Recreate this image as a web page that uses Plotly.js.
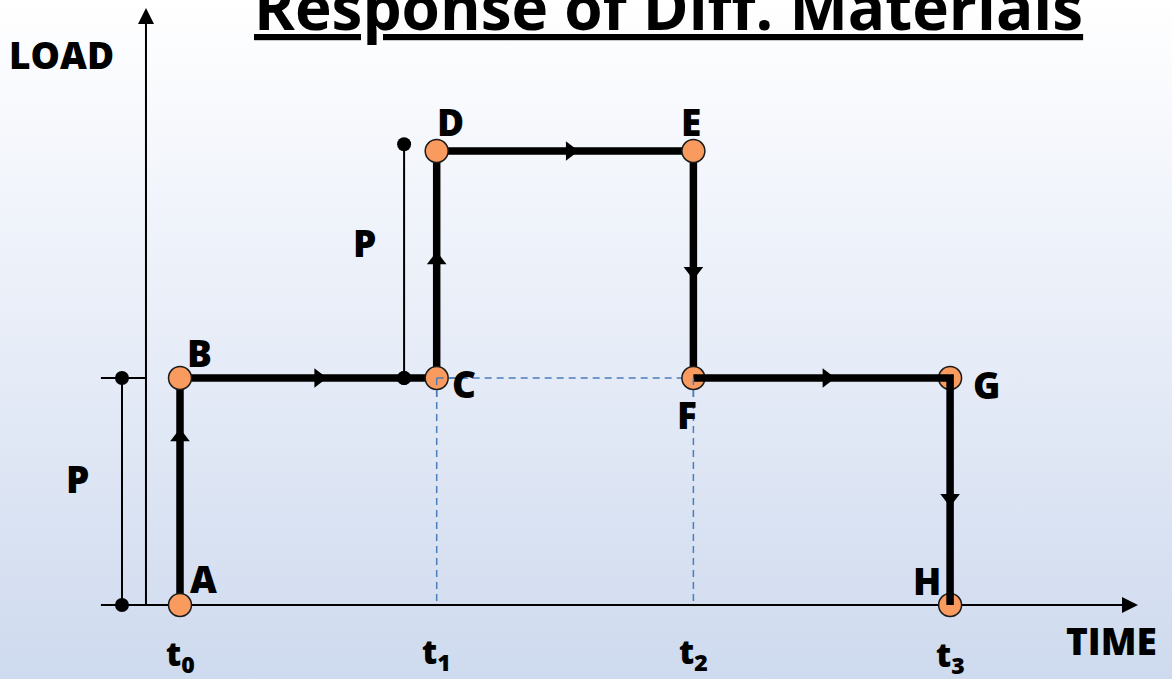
<!DOCTYPE html>
<html>
<head>
<meta charset="utf-8">
<script src="https://cdn.plot.ly/plotly-3.0.1.min.js"></script>
<style>
  html, body { margin: 0; padding: 0; }
  body { width: 1172px; height: 679px; overflow: hidden;
         background: linear-gradient(to bottom, #ffffff 0%, #e5ebf7 55%, #cedaee 100%); }
  #chart { width: 1172px; height: 679px; }
</style>
</head>
<body>
<div id="chart"></div>
<script>
// Load history: time instants and load levels (in units of P)
const timeValues = [0, 1, 2, 3];
const timeLabels = ['t<sub>0</sub>', 't<sub>1</sub>', 't<sub>2</sub>', 't<sub>3</sub>'];

const pointNames = ['A', 'B', 'C', 'D', 'E', 'F', 'G', 'H'];
const pointTimes = [0, 0, 1, 1, 2, 2, 3, 3];
const pointLoads = [0, 1, 1, 2, 2, 1, 1, 0];

// where the direction arrow sits along each segment (fraction of its length)
const arrowFractions = [0.74, 0.54, 0.52, 0.52, 0.53, 0.52, 0.53];

// dimension markers showing the magnitude P
const dimLeftTime = -0.226;
const dimLeftLoads = [0, 1];
const dimUpperTime = 0.873;
const dimUpperLoads = [1, 2.03];

// axis extents
const axisTime = -0.1325;
const axisTimeRange = [-0.308, 3.732];
const axisLoadTop = 2.63;

// label offsets in pixels [dx, dy(up)]
const labelOffsets = {
  A: [23, 27], B: [19, 26], C: [27, -5], D: [14, 30],
  E: [-2, 30], F: [-6, -36], G: [36, -6], H: [-23, 25]
};

const chartTitle = 'Response of Diff. Materials';

const FONT = 'Open Sans, Lato, sans-serif';
const traces = [];

// thin axis lines
traces.push({
  x: [axisTime, axisTime], y: [0, axisLoadTop - 0.05],
  mode: 'lines', line: { color: '#000', width: 2 }
});
traces.push({
  x: [axisTimeRange[0], axisTimeRange[1] - 0.05], y: [0, 0],
  mode: 'lines', line: { color: '#000', width: 2 }
});
traces.push({
  x: [axisTimeRange[0], axisTime], y: [1, 1],
  mode: 'lines', line: { color: '#000', width: 2 }
});
// axis arrow heads
traces.push({
  x: [axisTime], y: [axisLoadTop], mode: 'markers',
  marker: { symbol: 'arrow-up', size: 16, color: '#000', line: { width: 0 } }
});
traces.push({
  x: [axisTimeRange[1]], y: [0], mode: 'markers',
  marker: { symbol: 'arrow-right', size: 16, color: '#000', line: { width: 0 } }
});

// dimension lines with dot ends
[[dimLeftTime, dimLeftLoads], [dimUpperTime, dimUpperLoads]].forEach(([t, ls]) => {
  traces.push({
    x: [t, t], y: ls, mode: 'lines+markers',
    line: { color: '#000', width: 2 },
    marker: { size: 14, color: '#000' }
  });
});

// dashed guides at t1 and t2
const guideColor = '#4a7ebb';
const guideLine = { color: guideColor, width: 1.5, dash: '7px,5px' };
traces.push({
  x: [pointTimes[2], pointTimes[5]], y: [pointLoads[2], pointLoads[5]],
  mode: 'lines', line: guideLine
});
[2, 5].forEach(i => {
  traces.push({
    x: [pointTimes[i], pointTimes[i]], y: [pointLoads[i], 0],
    mode: 'lines', line: guideLine
  });
});

// thick load path, first part (A to F) under the point markers
traces.push({
  x: pointTimes.slice(0, 6), y: pointLoads.slice(0, 6),
  mode: 'lines', line: { color: '#000', width: 7.5 }
});

// points
traces.push({
  x: pointTimes, y: pointLoads, mode: 'markers',
  marker: { size: 23, color: '#f99a5f', line: { color: '#1a1a1a', width: 1.5 } }
});

// thick load path, last part (F to H) over the point markers
traces.push({
  x: pointTimes.slice(5), y: pointLoads.slice(5),
  mode: 'lines', line: { color: '#000', width: 7.5 }
});

// dashed guides crossing the C and F markers
traces.push({
  x: [pointTimes[2], pointTimes[2] + 0.12], y: [pointLoads[2], pointLoads[2]],
  mode: 'lines', line: guideLine
});
[2, 5].forEach(i => {
  traces.push({
    x: [pointTimes[i], pointTimes[i]], y: [pointLoads[i], pointLoads[i] - 0.1],
    mode: 'lines', line: guideLine
  });
});

// dot of the upper dimension redrawn over the path
traces.push({
  x: [dimUpperTime], y: [dimUpperLoads[0]], mode: 'markers',
  marker: { size: 14, color: '#000' }
});

// direction arrows along each segment
const arrowX = [], arrowY = [], arrowSym = [];
for (let i = 0; i < pointNames.length - 1; i++) {
  const f = arrowFractions[i];
  const dx = pointTimes[i + 1] - pointTimes[i];
  const dy = pointLoads[i + 1] - pointLoads[i];
  arrowX.push(pointTimes[i] + f * dx);
  arrowY.push(pointLoads[i] + f * dy);
  if (dx > 0) arrowSym.push('triangle-right');
  else if (dx < 0) arrowSym.push('triangle-left');
  else arrowSym.push(dy > 0 ? 'triangle-up' : 'triangle-down');
}
traces.push({
  x: arrowX, y: arrowY, mode: 'markers',
  marker: { symbol: arrowSym, size: 17, color: '#000', line: { width: 0 } }
});

const labelFont = { family: FONT, size: 37, color: '#000', weight: 800 };
const annotations = [];

pointNames.forEach((name, i) => {
  annotations.push({
    x: pointTimes[i], y: pointLoads[i], text: name, showarrow: false,
    xshift: labelOffsets[name][0], yshift: labelOffsets[name][1],
    font: labelFont
  });
});

// time tick labels
const tickShift = [0, 2, 2, -1];
timeValues.forEach((t, i) => {
  annotations.push({
    x: t, y: 0, text: timeLabels[i], showarrow: false,
    yshift: -50 + tickShift[i],
    font: { family: FONT, size: 33, color: '#000', weight: 800 }
  });
});

// P magnitude labels
annotations.push({ x: dimLeftTime, y: 0.5, xshift: -44, yshift: 13, text: 'P', showarrow: false, font: labelFont });
annotations.push({ x: dimUpperTime, y: 1.5, xshift: -40, yshift: 22, text: 'P', showarrow: false, font: labelFont });

// axis titles
annotations.push({ x: axisTime, y: axisLoadTop, xshift: -84, yshift: -47, text: 'LOAD', showarrow: false, font: labelFont });
annotations.push({ x: axisTimeRange[1], y: 0, xshift: -26, yshift: -35, text: 'TIME', showarrow: false, font: labelFont });

// underlined heading, partly running off the top edge
annotations.push({
  xref: 'paper', yref: 'paper', x: 0.57, y: 1, xanchor: 'center', yanchor: 'top',
  yshift: 38, text: '<u>' + chartTitle + '</u>', showarrow: false,
  font: { family: FONT, size: 62, color: '#000', weight: 'bold' }
});

const layout = {
  width: 1172, height: 679,
  margin: { l: 0, r: 0, t: 0, b: 0 },
  paper_bgcolor: 'rgba(0,0,0,0)',
  plot_bgcolor: 'rgba(0,0,0,0)',
  showlegend: false,
  xaxis: { range: [-0.7012, 3.8645], visible: false, fixedrange: true },
  yaxis: { range: [-0.326, 2.6652], visible: false, fixedrange: true },
  annotations: annotations
};

Plotly.newPlot('chart', traces, layout, { staticPlot: true, displayModeBar: false });
</script>
</body>
</html>
